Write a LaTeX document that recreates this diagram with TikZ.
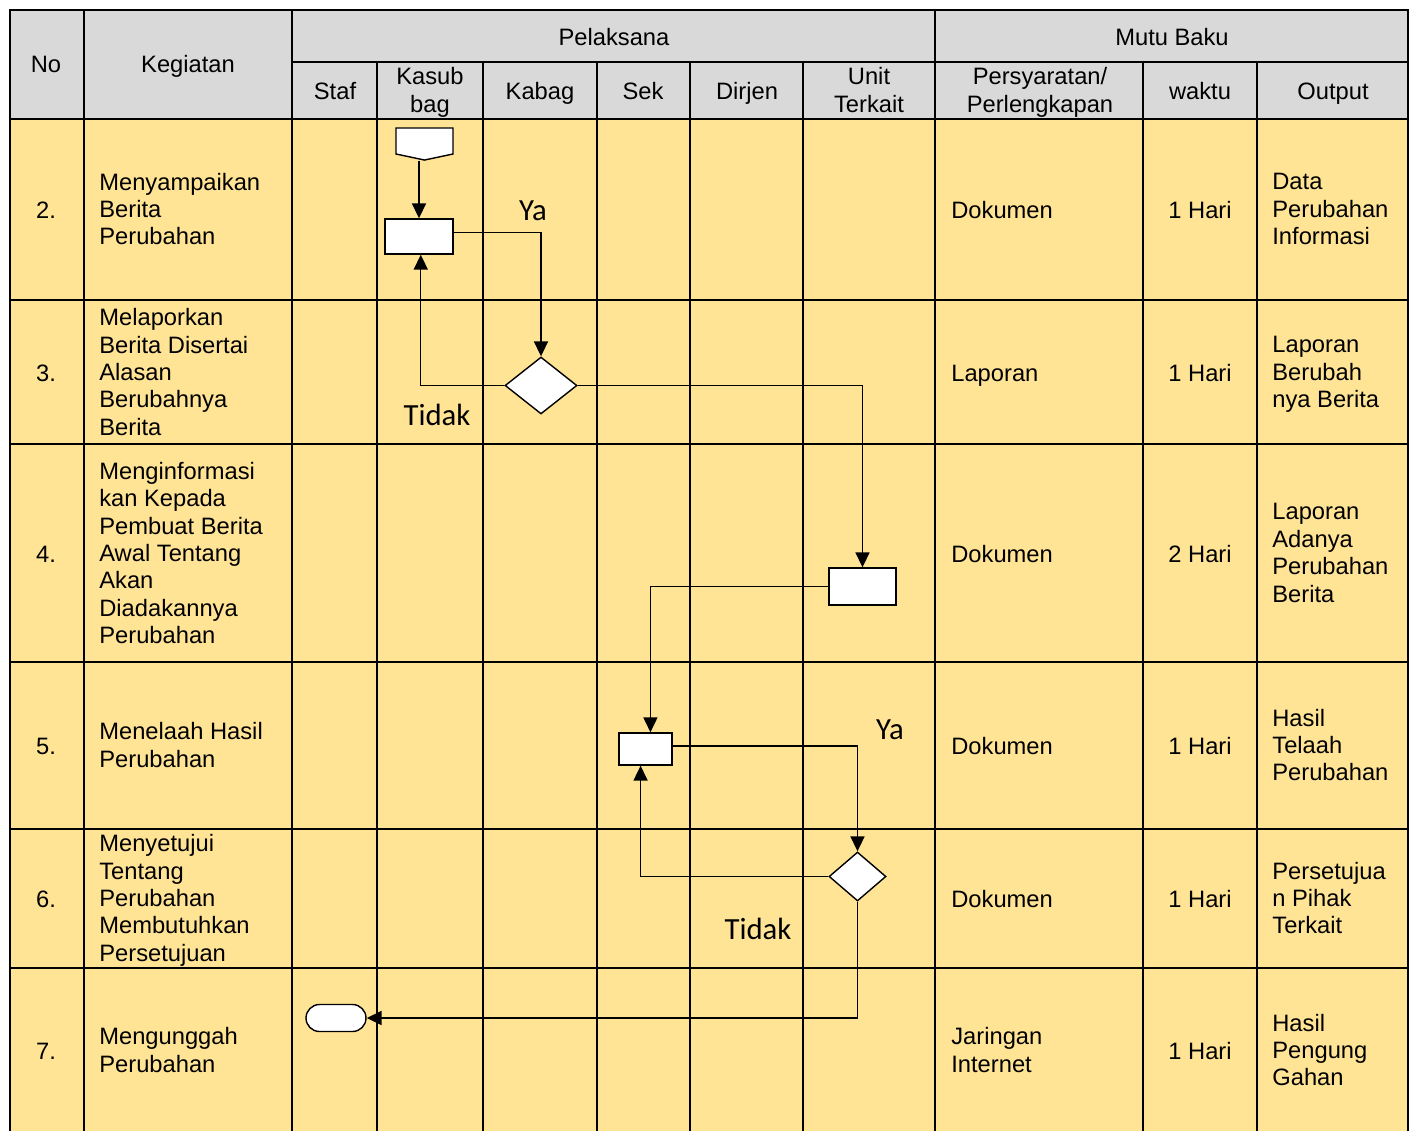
\documentclass[tikz,border=0pt]{standalone}
\usepackage{fontspec}
\setmainfont{Liberation Sans}
\newfontfamily\notefont{Carlito}
\definecolor{headgrey}{RGB}{217,217,217}
\definecolor{rowyellow}{RGB}{255,228,150}
\usetikzlibrary{arrows.meta,shapes.geometric,shapes.symbols,shapes.misc}

\begin{document}
\begin{tikzpicture}[x=0.02cm,y=-0.02cm,
      heavy/.style={line width=1.4pt},
      light/.style={line width=0.8pt},
      lefttxt/.style={font=\fontsize{13.5}{15.6}\selectfont,inner sep=0pt,
                      align=left,anchor=west,yshift=-1.7pt,
                      execute at begin node=\strut,execute at end node=\strut},
      ctrtxt/.style={font=\fontsize{13.5}{15.6}\selectfont,inner sep=0pt,
                     align=center,yshift=-1.7pt,
                     execute at begin node=\strut,execute at end node=\strut},
      procbox/.style={rectangle,draw,fill=white,line width=0.8pt,inner sep=0pt},
      decbox/.style={diamond,draw,fill=white,line width=0.8pt,inner sep=0pt},
      flow/.style={-{Triangle[length=8.5pt,width=8pt]},line width=0.8pt},
      answer/.style={font=\notefont\fontsize{17.5}{20}\selectfont,inner sep=0pt}]
    \useasboundingbox (0,0) rectangle (1415,1131);
    \fill[headgrey] (10,10) rectangle (1408,119);
    \fill[rowyellow] (10,119) rectangle (1408,1140);
    % body grid
    \draw[light] (84,119) -- (84,1140) (292,119) -- (292,1140)
                 (377,119) -- (377,1140) (483,119) -- (483,1140)
                 (597,119) -- (597,1140) (690,119) -- (690,1140)
                 (803,119) -- (803,1140) (935,119) -- (935,1140)
                 (1143,119) -- (1143,1140) (1257,119) -- (1257,1140);
    \draw[light] (10,300) -- (1408,300) (10,444) -- (1408,444)
                 (10,662) -- (1408,662) (10,829) -- (1408,829)
                 (10,968) -- (1408,968);
    % header grid
    \draw[heavy] (10,1140) -- (10,10) -- (1408,10) -- (1408,1140);
    \draw[heavy] (10,119) -- (1408,119) (292,62) -- (1408,62)
                 (84,10) -- (84,119) (292,10) -- (292,119) (935,10) -- (935,119)
                 (377,62) -- (377,119) (483,62) -- (483,119) (597,62) -- (597,119)
                 (690,62) -- (690,119) (803,62) -- (803,119)
                 (1143,62) -- (1143,119) (1257,62) -- (1257,119);

    \node[ctrtxt] (hno) at (46,64) {No};
    \node[ctrtxt] (hkeg) at (188,64) {Kegiatan};
    \node[ctrtxt] (hpel) at (614,37) {Pelaksana};
    \node[ctrtxt] (hmutu) at (1172,37) {Mutu Baku};
    \node[ctrtxt] (hstaf) at (335,91) {Staf};
    \node[ctrtxt] (hkasub) at (430,91) {Kasub\\bag};
    \node[ctrtxt] (hkabag) at (540,91) {Kabag};
    \node[ctrtxt] (hsek) at (643,91) {Sek};
    \node[ctrtxt] (hdirjen) at (747,91) {Dirjen};
    \node[ctrtxt] (hunit) at (869,91) {Unit\\Terkait};
    \node[ctrtxt] (hreq) at (1040,91) {Persyaratan/\\Perlengkapan};
    \node[ctrtxt] (htime) at (1200,91) {waktu};
    \node[ctrtxt] (hout) at (1333,91) {Output};

    \node[ctrtxt] (no2) at (46,210) {2.};
    \node[ctrtxt] (no3) at (46,373) {3.};
    \node[ctrtxt] (no4) at (46,554) {4.};
    \node[ctrtxt] (no5) at (46,746) {5.};
    \node[ctrtxt] (no6) at (46,899) {6.};
    \node[ctrtxt] (no7) at (46,1051) {7.};

    \node[lefttxt] (keg2) at (99,210) {Menyampaikan\\Berita\\Perubahan};
    \node[lefttxt] (keg3) at (99,373) {Melaporkan\\Berita Disertai\\Alasan\\Berubahnya\\Berita};
    \node[lefttxt] (keg4) at (99,554) {Menginformasi\\kan Kepada\\Pembuat Berita\\Awal Tentang\\Akan\\Diadakannya\\Perubahan};
    \node[lefttxt] (keg5) at (99,746) {Menelaah Hasil\\Perubahan};
    \node[lefttxt] (keg6) at (99,899) {Menyetujui\\Tentang\\Perubahan\\Membutuhkan\\Persetujuan};
    \node[lefttxt] (keg7) at (99,1051) {Mengunggah\\Perubahan};

    \node[lefttxt] (req2) at (951,210) {Dokumen};
    \node[lefttxt] (req3) at (951,373) {Laporan};
    \node[lefttxt] (req4) at (951,554) {Dokumen};
    \node[lefttxt] (req5) at (951,746) {Dokumen};
    \node[lefttxt] (req6) at (951,899) {Dokumen};
    \node[lefttxt] (req7) at (951,1051) {Jaringan\\Internet};

    \node[ctrtxt] (time2) at (1200,210) {1 Hari};
    \node[ctrtxt] (time3) at (1200,373) {1 Hari};
    \node[ctrtxt] (time4) at (1200,554) {2 Hari};
    \node[ctrtxt] (time5) at (1200,746) {1 Hari};
    \node[ctrtxt] (time6) at (1200,899) {1 Hari};
    \node[ctrtxt] (time7) at (1200,1051) {1 Hari};

    \node[lefttxt] (out2) at (1272,210) {Data\\Perubahan\\Informasi};
    \node[lefttxt] (out3) at (1272,373) {Laporan\\Berubah\\nya Berita};
    \node[lefttxt] (out4) at (1272,554) {Laporan\\Adanya\\Perubahan\\Berita};
    \node[lefttxt] (out5) at (1272,746) {Hasil\\Telaah\\Perubahan};
    \node[lefttxt] (out6) at (1272,899) {Persetujua\\n Pihak\\Terkait};
    \node[lefttxt] (out7) at (1272,1051) {Hasil\\Pengung\\Gahan};

    % flow symbols
    \node[signal,signal to=south,signal pointer angle=156,draw,fill=white,
          line width=0.8pt,inner sep=0pt,minimum width=1.14cm,minimum height=0.52cm]
          (start) at (424.5,141) {};
    \node[procbox,minimum width=1.36cm,minimum height=0.7cm] (p1) at (419,236.5) {};
    \node[decbox,minimum width=1.44cm,minimum height=1.14cm] (d1) at (541,385.5) {};
    \node[procbox,minimum width=1.34cm,minimum height=0.74cm] (p2) at (862.5,586.5) {};
    \node[procbox,minimum width=1.06cm,minimum height=0.64cm] (p3) at (645.5,749) {};
    \node[decbox,minimum width=1.14cm,minimum height=0.98cm] (d2) at (857.5,876.5) {};
    \node[rounded rectangle,draw,fill=white,line width=0.8pt,inner sep=0pt,
          minimum width=1.2cm,minimum height=0.54cm] (finish) at (336,1018) {};

    \node[answer] (ya1) at (533,211) {Ya};
    \node[answer] (tidak1) at (437,415) {Tidak};
    \node[answer] (ya2) at (890,730) {Ya};
    \node[answer] (tidak2) at (758,929) {Tidak};

    \draw[flow] (p1.north |- start.south) -- (p1.north);
    \draw[flow] ([yshift=2.3pt]p1.east) -| (d1.north);
    \draw[flow] (d1.west) -| ([xshift=1pt]p1.south);
    \draw[flow] (d1.east) -| (p2.north);
    \draw[flow] (p2.west) -| ([xshift=2.8pt]p3.north);
    \draw[flow] ([yshift=1.7pt]p3.east) -| (d2.north);
    \draw[flow] (d2.west) -| ([xshift=-2.8pt]p3.south);
    \draw[flow] (d2.south) |- (finish.east);
  \end{tikzpicture}
\end{document}
